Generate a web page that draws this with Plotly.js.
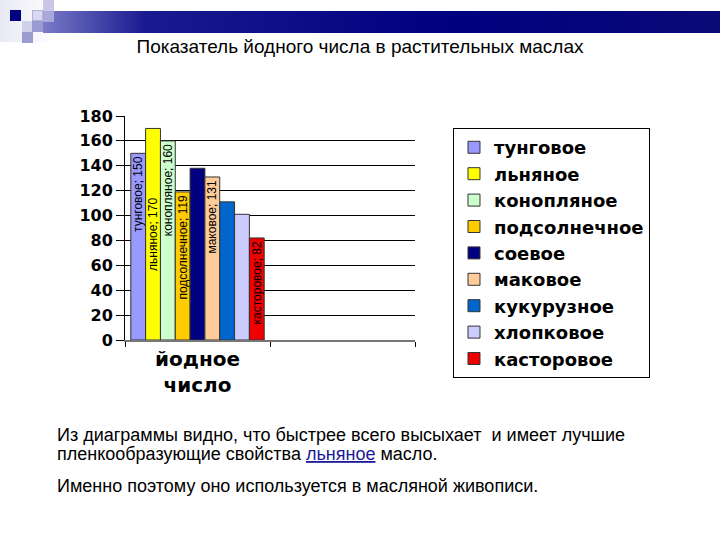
<!DOCTYPE html>
<html><head><meta charset="utf-8">
<script src="https://cdn.plot.ly/plotly-3.0.1.min.js"></script>
<style>
body{margin:0;padding:0;background:#fff;}
#wrap{position:relative;width:720px;height:540px;}
#chart{position:absolute;left:0;top:0;width:720px;height:540px;}
.deco{position:absolute;z-index:5;}
</style></head>
<body><div id="wrap"><div id="chart"></div>
<div class="deco" style="left:0;top:0;width:55px;height:42px;background:linear-gradient(90deg,#e8e8f4,#ffffff);"></div>
<div class="deco" style="left:43px;top:11px;width:677px;height:22px;background:linear-gradient(90deg,#7a7ac8 0%,#1a1a90 15%,#000080 60%,#0a0a78 100%);"></div>
<div class="deco" style="left:10px;top:10px;width:11px;height:11px;background:#000080;"></div>
<div class="deco" style="left:32px;top:10px;width:11px;height:11px;background:#d8d8ee;border:1px solid #b0b0d8;box-sizing:border-box;"></div>
<div class="deco" style="left:43px;top:0px;width:11px;height:11px;background:#c8c8e6;"></div>
<div class="deco" style="left:43px;top:11px;width:11px;height:11px;background:#a8a8dc;"></div>
<div class="deco" style="left:22px;top:21px;width:11px;height:11px;background:#d0d0ea;"></div>
<div class="deco" style="left:32px;top:21px;width:11px;height:11px;background:#9a9ad2;"></div>
<div class="deco" style="left:22px;top:32px;width:11px;height:11px;background:#9c9cd0;"></div>
</div>
<script>
const categories = ["йодное<br>число", " "];
const oils = ["тунговое","льняное","конопляное","подсолнечное","соевое","маковое","кукурузное","хлопковое","касторовое"];
const iodine = [150, 170, 160, 119, 138, 131, 111, 101, 82];
const labels = ["тунговое; 150","льняное; 170","конопляное; 160","подсолнечное; 119","","маковое; 131","","","касторовое; 82"];
const colors = ["#9999FF","#FFFF00","#CCFFCC","#FFCC00","#000080","#FFCC99","#0066CC","#CCCCFF","#F00000"];
const textAnchors = ["end","middle","end","end","end","end","end","end","end"];
const yTicks = [0,20,40,60,80,100,120,140,160,180];

const traces = oils.map((name,i)=>({
  type:'bar', name:name, x:[categories[0]], y:[iodine[i]],
  text:[labels[i]], textposition:'inside', insidetextanchor:textAnchors[i], textangle:-90,
  textfont:{family:'Liberation Sans, Arial, sans-serif', size:12, color:'#000'},
  constraintext:'none',
  marker:{color:colors[i], line:{color:'#333', width:1}},
  hoverinfo:'name+y'
}));

const bodyFont = {family:'Liberation Sans, Arial, sans-serif', size:18, color:'#000'};
const layout = {
  width:720, height:540,
  margin:{l:125, r:305, t:116, b:200},
  paper_bgcolor:'#fff', plot_bgcolor:'#fff',
  barmode:'group', bargap:0.08, bargroupgap:0,
  showlegend:true,
  title:{text:'Показатель йодного числа в растительных маслах', x:0.5, xref:'container', y:0.915, yref:'container', yanchor:'middle', xanchor:'center',
    font:{family:'Liberation Sans, Arial, sans-serif', size:19, color:'#000'}},
  xaxis:{type:'category', categoryorder:'array', categoryarray:categories, range:[-0.5,1.5],
    tickson:'boundaries', ticks:'outside', ticklen:5, tickcolor:'#000',
    showline:true, linecolor:'#777', linewidth:2, showgrid:false,
    tickfont:{family:'DejaVu Sans, sans-serif', size:20, color:'#000', weight:'bold'}, fixedrange:true},
  yaxis:{range:[0,180], tickvals:yTicks, ticktext:yTicks.map(String), ticks:'outside', ticklen:8, tickcolor:'#000',
    showline:true, linecolor:'#000', linewidth:1, showgrid:true, gridcolor:'#000', gridwidth:1, zeroline:false,
    tickfont:{family:'DejaVu Sans, sans-serif', size:16, color:'#000', weight:'bold'}, fixedrange:true},
  legend:{x:1.131, y:0.946, xanchor:'left', yanchor:'top', bordercolor:'#000', borderwidth:1, bgcolor:'#fff',
    maxheight:400,
    font:{family:'DejaVu Sans, sans-serif', size:18, color:'#000', weight:'bold'}, tracegroupgap:0, itemclick:false},
  annotations:[
    {xref:'paper', yref:'paper', x:-0.2414, y:(340-435)/224, xanchor:'left', yanchor:'middle', align:'left', showarrow:false,
     text:'Из диаграммы видно, что быстрее всего высыхает  и имеет лучшие', font:bodyFont},
    {xref:'paper', yref:'paper', x:-0.2414, y:(340-454)/224, xanchor:'left', yanchor:'middle', align:'left', showarrow:false,
     text:'пленкообразующие свойства <span style="color:#1a1a9a;text-decoration:underline">льняное</span> масло.', font:bodyFont},
    {xref:'paper', yref:'paper', x:-0.2414, y:(340-486)/224, xanchor:'left', yanchor:'middle', align:'left', showarrow:false,
     text:'Именно поэтому оно используется в масляной живописи.', font:bodyFont}
  ]
};
Plotly.newPlot('chart', traces, layout, {displayModeBar:false, staticPlot:false});
</script></body></html>
